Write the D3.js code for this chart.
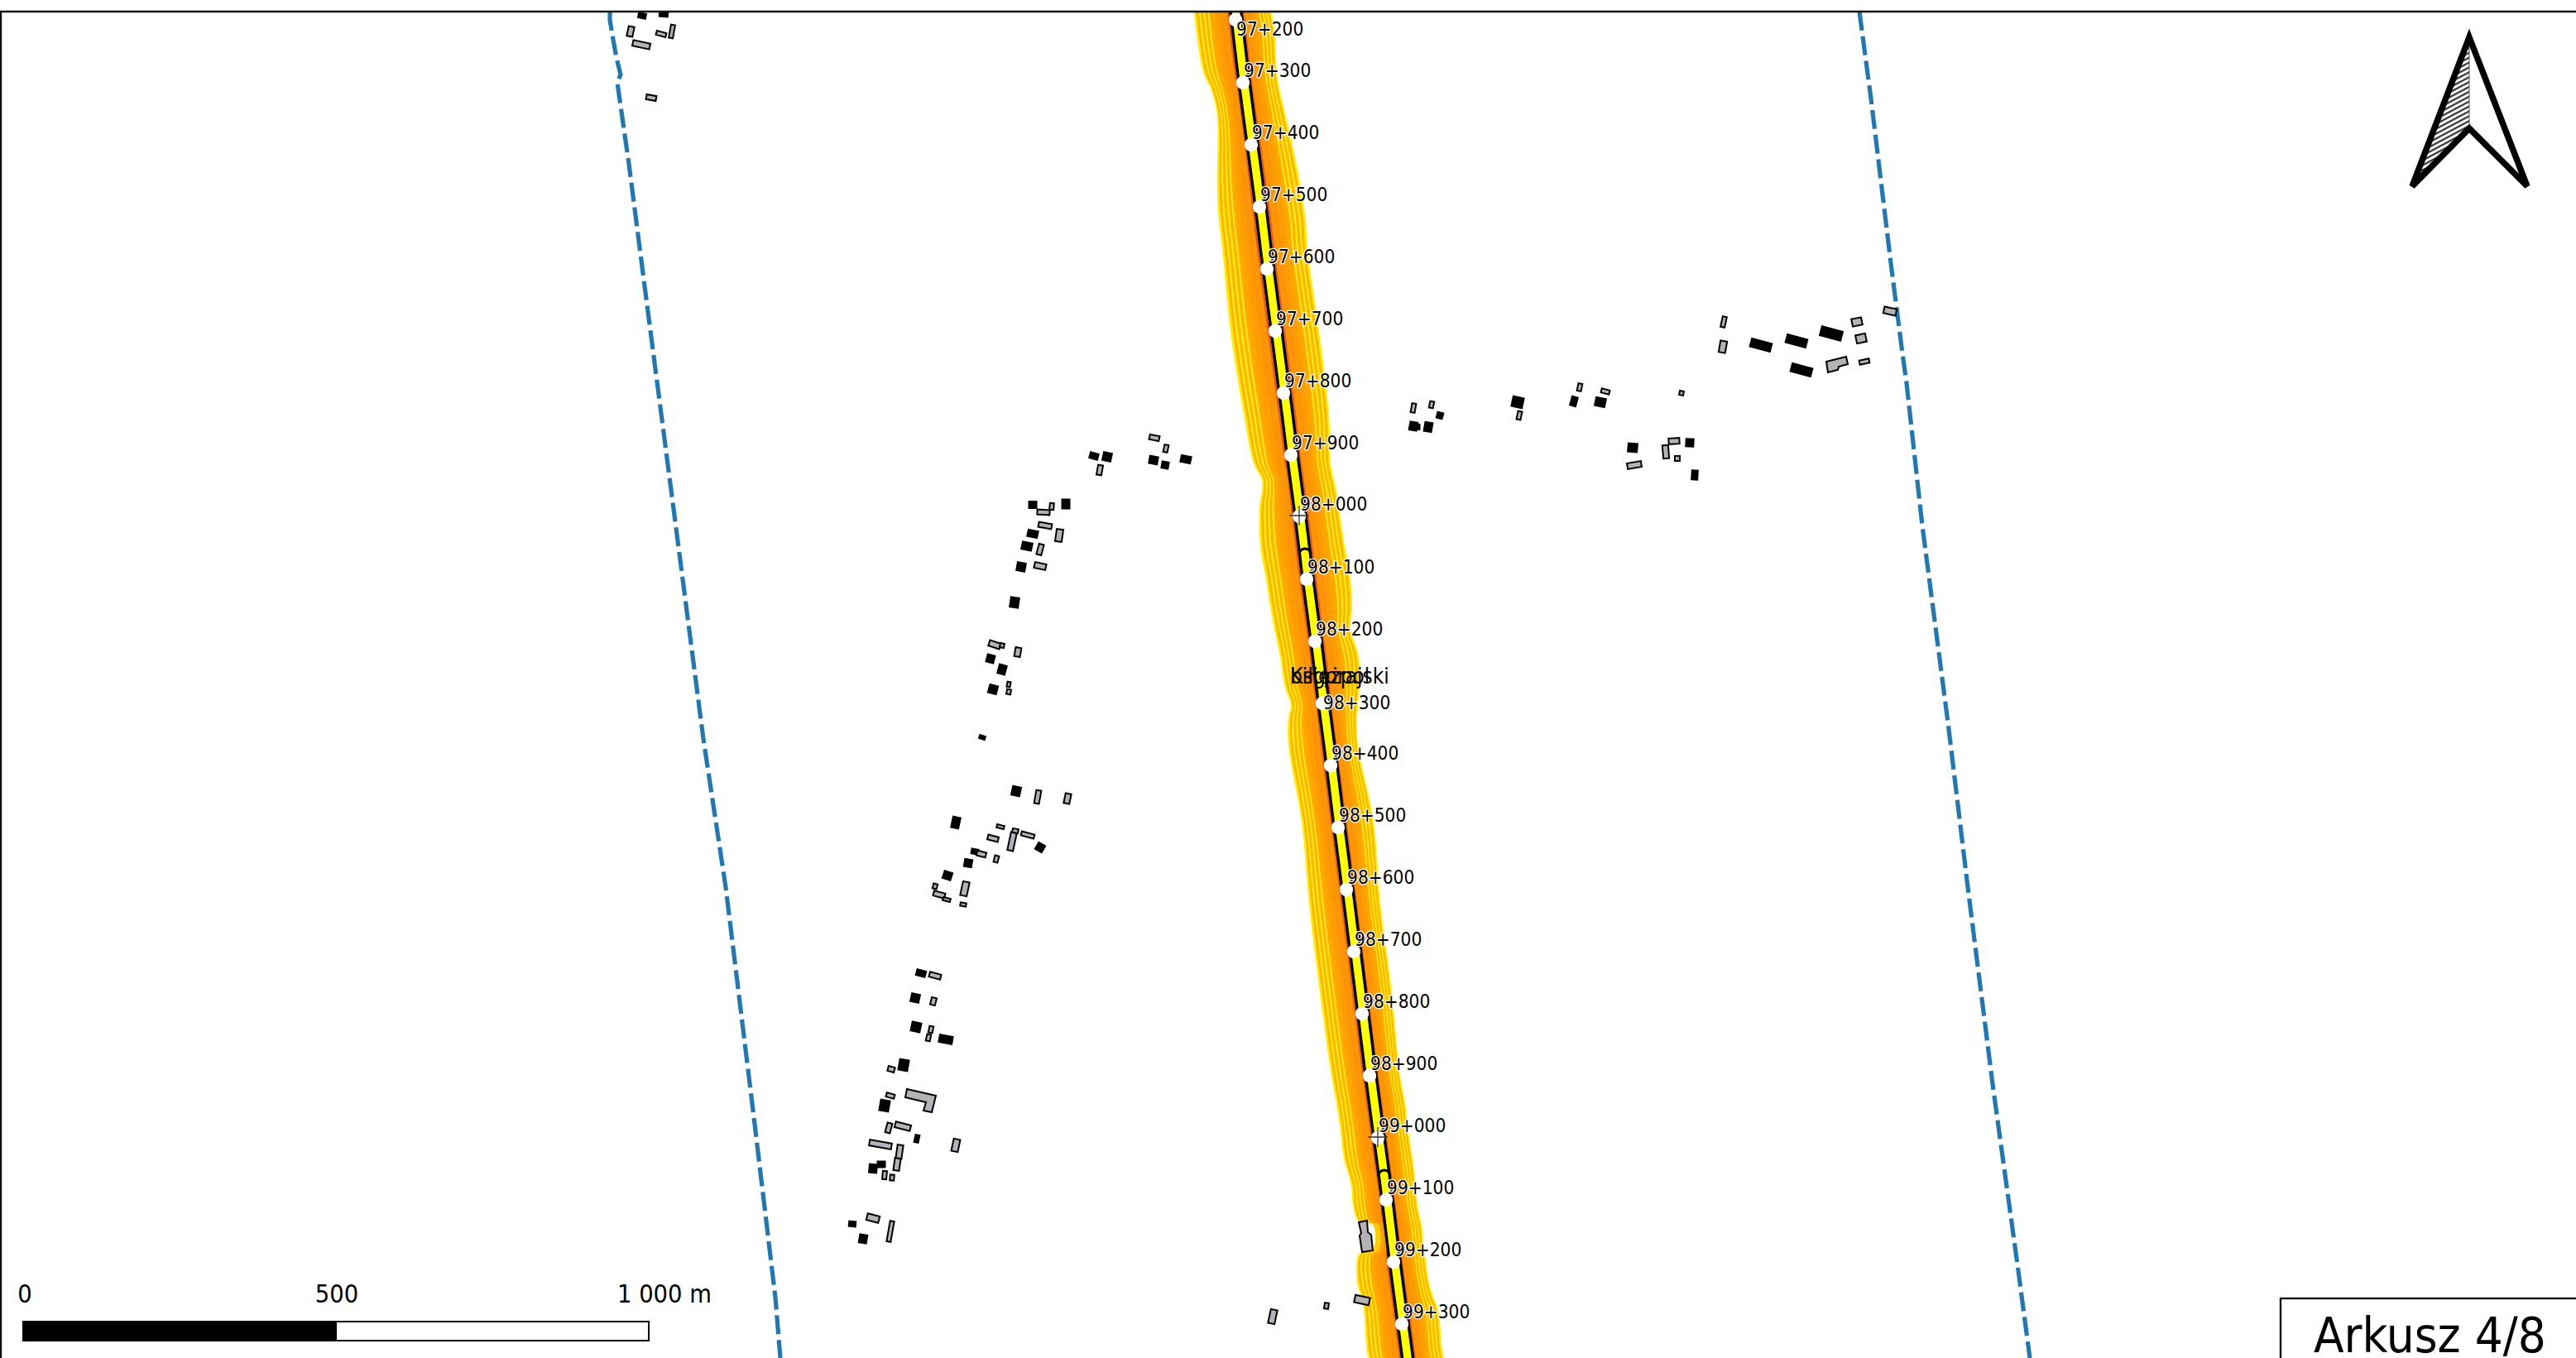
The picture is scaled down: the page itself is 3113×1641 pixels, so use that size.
<!DOCTYPE html>
<html lang="pl">
<head>
    <meta charset="UTF-8">
    <script src="https://d3js.org/d3.v7.min.js"></script>
    <title>Arkusz 4/8</title>
    <style>
        html, body { margin: 0; padding: 0; background: white; overflow: hidden; }
        text { font-family: "DejaVu Sans Condensed", "DejaVu Sans", sans-serif; fill: black; }
        .km { font-size: 22.5px; stroke: white; stroke-width: 2.6px; paint-order: stroke; stroke-linejoin: round; }
    </style>
</head>
<body>
    <div id="map"></div>
    <script>
        const width = 3113, height = 1641;

        /*------------------- Data read from the sheet (map units) --------------------*/
        const kmLabels = ["97+200","97+300","97+400","97+500","97+600","97+700","97+800","97+900",
            "98+000","98+100","98+200","98+300","98+400","98+500","98+600","98+700","98+800","98+900",
            "99+000","99+100","99+200","99+300"];
        const kmX = [1493,1502,1512,1522,1531,1541,1551,1560,1570,1579,1589,1598,1608,1617,1627,1636,1646,1655,1665,1675,1684,1694];
        const kmY = [23,99,174,249,324,399,474,549,623,699,774,849,924,999,1074,1149,1224,1299,1374,1449,1524,1599];
        const crossLabels = ["98+000","99+000"];
        const archY = [670,1421];

        // outer edges of the noise buffer around the road
        const stationY  = [14,33,87,107,133,167,200,233,267,300,400,500,560,580,593,613,660,700,733,760,793,827,853,867,900,993,1092,1191,1300,1333,1367,1400,1433,1457,1476,1480,1510,1516,1550,1567,1583,1633,1641];
        const leftEdge  = [1443,1445,1454,1463,1470,1472,1471,1471,1473,1477,1487,1503,1515,1525,1525,1522,1523,1530,1535,1540,1547,1552,1560,1557,1557,1573,1582,1594,1609,1615,1620,1624,1633,1635,1642,1659,1659,1642,1640,1645,1648,1652,1654];
        const rightEdge = [1536,1540,1543,1546,1552,1560,1567,1573,1578,1580,1594,1606,1608,1612,1615,1618,1625,1632,1634,1632,1642,1643,1641,1640,1641,1660,1668,1681,1692,1698,1702,1707,1711,1713,1717,1718,1721,1722,1727,1732,1738,1743,1745];
        const bandLevels = [1,.94,.87,.82,.75,.70,.63,.58,.5,.42,.27,.245,.09];
        const bandColors = ["#ffee00","#ffb400","#ffee10","#ffb400","#ffee10","#ffb000","#ffe810","#ffaa00","#ffa400","#ff9c00","#f98a1f","#ff9600","#e4572e"];

        const leftBoundary = [[737,14],[737,24],[741,48],[745,70],[750,90],[746,100],[750,128],[760,198],[778,338],[814,615],[850,893],[877,1072],[911,1350],[937,1568],[943,1641]];
        const rightBoundary = [[2247,14],[2261,119],[2285,318],[2299,427],[2304,463],[2323,635],[2354,873],[2378,1072],[2408,1310],[2438,1528],[2453,1641]];

        // [x, y, w, h, angle]
        const blackHouses = [[1248,610,9,8,0],[1288,609,9,11,0],[1248,645,12,8,12],[1241,660,12,9,12],[1234,685,10,10,10],[1226,728,10,12,8],
            [1197,796,9,9,15],[1211,809,9,11,15],[1200,833,10,10,15],[1187,891,7,4,18],[1322,551,10,7,15],[1338,552,10,10,12],[1394,556,10,9,10],[1408,562,8,8,10],[1433,555,12,8,12],
            [1228,956,10,11,12],[1155,994,9,13,12],[1257,1024,9,9,30],[1170,1043,9,9,10],[1145,1058,10,9,18],[1178,1029,8,6,10],
            [1113,1176,11,7,15],[1106,1206,10,10,12],[1107,1241,11,11,12],[1143,1256,16,9,10],[1092,1287,11,13,10],[1069,1336,11,13,10],[1108,1376,5,9,12],[1065,1407,9,7,0],[1055,1412,9,10,5],[1030,1479,8,6,5],[1043,1497,9,10,10],
            [1708,515,9,10,10],[1713,516,5,6,0],[1726,516,9,11,10],[1740,502,7,7,15],[1834,486,13,12,12],[1902,485,7,11,15],[1934,486,12,10,12],[1973,541,11,10,5],[2042,535,9,9,3],[2048,574,7,11,3],
            [2128,417,25,10,15],[2171,412,25,10,15],[2213,403,26,11,15],[2177,447,25,10,15],[776,19,9,6,12],[802,17,10,6,5]];
        const greyHouses = [[1395,529,12,6,12],[1409,542,5,9,12],[1329,568,6,12,10],[1271,612,5,8,5],[1261,619,15,6,3],[1263,635,16,6,10],[1280,647,8,15,8],[1257,664,6,13,15],[1257,684,14,7,12],
            [1202,779,14,7,18],[1211,780,5,5,12],[1230,788,7,11,10],[1219,827,4,6,10],[1219,836,5,6,10],
            [1254,963,6,16,10],[1290,965,7,12,12],[1209,999,9,4,15],[1200,1013,13,6,15],[1227,1004,7,5,12],[1223,1017,7,22,12],[1242,1009,16,5,15],[1186,1032,11,6,15],[1204,1038,5,8,15],[1130,1071,5,6,15],[1166,1074,8,17,12],[1135,1081,14,6,15],[1144,1087,9,4,15],[1164,1093,7,4,10],
            [1130,1179,14,6,15],[1128,1210,6,9,15],[1125,1244,5,8,12],[1122,1254,5,8,12],[1077,1292,8,6,15],[1076,1324,10,5,15],[1074,1363,6,12,15],[1091,1361,19,7,15],[1064,1383,27,7,10],[1087,1392,7,17,8],[1084,1407,7,15,8],[1155,1384,8,15,12],[1069,1420,5,10,5],[1078,1423,5,7,5],[1055,1472,15,8,15],[1076,1488,5,25,10],
            [1708,493,5,11,10],[1730,489,5,8,12],[1836,502,5,10,12],[1909,468,5,9,12],[1940,473,10,5,15],[2032,475,5,5,12],[2023,533,13,7,-3],[2013,546,7,16,-5],[2027,554,6,6,0],[1975,562,17,7,-10],
            [2083,389,5,13,12],[2082,419,8,14,10],[2284,376,15,8,12],[2244,389,12,9,-12],[2249,409,12,10,-12],[2253,437,12,5,-12],
            [762,38,7,12,12],[799,41,12,5,15],[812,38,5,16,10],[775,54,21,7,12],[787,118,12,6,10],
            [1646,1571,18,9,12],[1603,1578,5,7,8],[1538,1591,8,17,12]];
        const greyOutlines = [
            [[1096,1316],[1131,1324],[1126,1344],[1116,1342],[1119,1332],[1094,1326]],
            [[2207,437],[2231,431],[2233,440],[2222,443],[2221,447],[2209,450]],
            [[1642,1477],[1652,1475],[1653,1489],[1657,1492],[1659,1511],[1646,1513],[1643,1493],[1645,1490]]
        ];

        const placeNames = ["biłgorajski","Księżpol"];
        const placeAnchor = [1559,826];

        const arrowOutline = [[2984,45],[3054,225],[2984,155],[2915,225]];
        const arrowHatched = [[2984,45],[2984,155],[2915,225]];

        const scaleValues = [0,500,1000];
        const scaleLabels = ["0","500","1 000 m"];
        const sheetTitle = "Arkusz 4/8";

        /*------------------- Scales --------------------*/
        const x = d3.scaleLinear().domain([0,3113]).range([0,width]);
        const y = d3.scaleLinear().domain([0,1641]).range([0,height]);
        const axis = d3.scaleLinear().domain(kmY).range(kmX); // road axis x for a given y
        const metres = d3.scaleLinear().domain([0,1000]).range([28,784]);

        const svg = d3.select("#map").append("svg")
            .attr("width", width).attr("height", height)
            .style("display", "block");

        const defs = svg.append("defs");
        defs.append("clipPath").attr("id", "frame").append("rect")
            .attr("x", 1).attr("y", 14).attr("width", width).attr("height", height);
        const hatch = defs.append("pattern").attr("id", "hatch")
            .attr("patternUnits", "userSpaceOnUse")
            .attr("width", 10).attr("height", 5.2)
            .attr("patternTransform", "rotate(-28)");
        hatch.append("rect").attr("width", 10).attr("height", 2.2).attr("fill", "#333");

        const map = svg.append("g").attr("clip-path", "url(#frame)");

        /*------------------- Noise buffer --------------------*/
        const stations = stationY.map((s, i) => ({y: s, left: leftEdge[i], right: rightEdge[i]}));
        const leftRoad = d => axis(d.y) - 5;
        const rightRoad = d => axis(d.y) + 8;

        bandLevels.forEach((level, i) => {
            const leftArea = d3.area().curve(d3.curveCatmullRom.alpha(.5))
                .y(d => y(d.y))
                .x0(d => x(leftRoad(d) + (d.left - leftRoad(d)) * level))
                .x1(d => x(leftRoad(d)));
            const rightArea = d3.area().curve(d3.curveCatmullRom.alpha(.5))
                .y(d => y(d.y))
                .x0(d => x(rightRoad(d)))
                .x1(d => x(rightRoad(d) + (d.right - rightRoad(d)) * level));
            map.append("path").attr("d", leftArea(stations)).attr("fill", bandColors[i]);
            map.append("path").attr("d", rightArea(stations)).attr("fill", bandColors[i]);
        });

        /*------------------- Road --------------------*/
        const roadArea = d3.area().y(d => y(d.y)).x0(d => x(leftRoad(d))).x1(d => x(rightRoad(d)));
        map.append("path").attr("d", roadArea(stations)).attr("fill", "#ffff00");
        [leftRoad, rightRoad].forEach(f => {
            map.append("path")
                .attr("d", d3.line().x(d => x(f(d))).y(d => y(d.y))(stations))
                .attr("fill", "none").attr("stroke", "black").attr("stroke-width", 3.4);
        });

        const archPath = d3.arc().innerRadius(5.5).outerRadius(8.5).startAngle(-Math.PI / 2).endAngle(Math.PI / 2)();
        map.selectAll(".arch").data(archY).enter().append("path")
            .attr("class", "arch")
            .attr("d", archPath)
            .attr("fill", "black")
            .attr("transform", d => `translate(${x(axis(d) + 1.5)},${y(d)})`);

        /*------------------- Boundaries --------------------*/
        const boundary = d3.line().x(d => x(d[0])).y(d => y(d[1]));
        [leftBoundary, rightBoundary].forEach(b => {
            map.append("path").attr("d", boundary(b))
                .attr("fill", "none").attr("stroke", "#1f78b4")
                .attr("stroke-width", 5.2).attr("stroke-dasharray", "23 7");
        });

        /*------------------- Buildings --------------------*/
        const drawHouses = (rows, fill) => {
            map.append("g").selectAll("rect").data(rows).enter().append("rect")
                .attr("x", d => x(d[0]) - d[2] / 2)
                .attr("y", d => y(d[1]) - d[3] / 2)
                .attr("width", d => d[2])
                .attr("height", d => d[3])
                .attr("transform", d => `rotate(${d[4]},${x(d[0])},${y(d[1])})`)
                .attr("fill", fill)
                .attr("stroke", "black").attr("stroke-width", 2);
        };
        drawHouses(blackHouses, "black");
        drawHouses(greyHouses, "#b4b2b7");
        map.append("g").selectAll("path").data(greyOutlines).enter().append("path")
            .attr("d", d => boundary(d) + "Z")
            .attr("fill", "#b4b2b7").attr("stroke", "black").attr("stroke-width", 2);

        /*------------------- Chainage --------------------*/
        const kmPoints = kmLabels.map((label, i) => ({label, x: kmX[i], y: kmY[i]}));
        map.selectAll(".post").data(kmPoints).enter().append("circle")
            .attr("class", "post")
            .attr("cx", d => x(d.x)).attr("cy", d => y(d.y) + 1).attr("r", 8.2)
            .attr("fill", "white");

        // the two crossed posts sit on top of their circle
        const crossArm = 12;
        kmPoints.filter(d => crossLabels.includes(d.label)).forEach(d => {
            map.append("path")
                .attr("d", `M${x(d.x) - crossArm},${y(d.y)}H${x(d.x) + crossArm}M${x(d.x)},${y(d.y) - crossArm}V${y(d.y) + crossArm}`)
                .attr("stroke", "#333").attr("stroke-width", 1.3).attr("fill", "none");
        });

        // two labels were pushed below their post by the label engine
        const labelShift = {"97+200": 20, "98+300": 8};
        map.selectAll(".km").data(kmPoints).enter().append("text")
            .attr("class", "km")
            .attr("x", d => x(d.x) + 1)
            .attr("y", d => y(d.y) + (labelShift[d.label] || -6))
            .text(d => d.label);

        map.selectAll(".place").data(placeNames).enter().append("text")
            .attr("class", "place")
            .attr("x", x(placeAnchor[0])).attr("y", y(placeAnchor[1]))
            .attr("font-size", 26)
            .text(d => d);

        /*------------------- North arrow --------------------*/
        const closed = d3.line().x(d => x(d[0])).y(d => y(d[1])).curve(d3.curveLinearClosed);
        svg.append("path").attr("d", closed(arrowHatched)).attr("fill", "url(#hatch)")
            .attr("stroke", "#555").attr("stroke-width", 1);
        svg.append("path").attr("d", closed(arrowOutline)).attr("fill", "none")
            .attr("stroke", "black").attr("stroke-width", 7.5).attr("stroke-linejoin", "miter")
            .attr("stroke-miterlimit", 3.5);

        /*------------------- Scale bar --------------------*/
        const barTop = 1597, barHeight = 23;
        d3.pairs(scaleValues).forEach((p, i) => {
            svg.append("rect")
                .attr("x", metres(p[0])).attr("y", barTop)
                .attr("width", metres(p[1]) - metres(p[0])).attr("height", barHeight)
                .attr("fill", i === 0 ? "black" : "white")
                .attr("stroke", "black").attr("stroke-width", 2);
        });
        svg.selectAll(".scale").data(scaleValues).enter().append("text")
            .attr("class", "scale")
            .attr("x", d => metres(d))
            .attr("dx", (d, i) => i === 2 ? -38 : (i === 0 ? 2 : 1))
            .attr("y", 1574)
            .attr("text-anchor", (d, i) => i === 2 ? "start" : "middle")
            .attr("font-size", 30.5)
            .text((d, i) => scaleLabels[i]);

        /*------------------- Frame and sheet box --------------------*/
        svg.append("path").attr("d", `M1,${height}V14H${width}`)
            .attr("fill", "none").attr("stroke", "#111").attr("stroke-width", 2.4);
        svg.append("rect").attr("x", 2756).attr("y", 1569).attr("width", 400).attr("height", 100)
            .attr("fill", "white").attr("stroke", "#111").attr("stroke-width", 2.4);
        svg.append("text").attr("x", 2796).attr("y", 1634).attr("font-size", 59.5).text(sheetTitle);
    </script>
</body>
</html>
